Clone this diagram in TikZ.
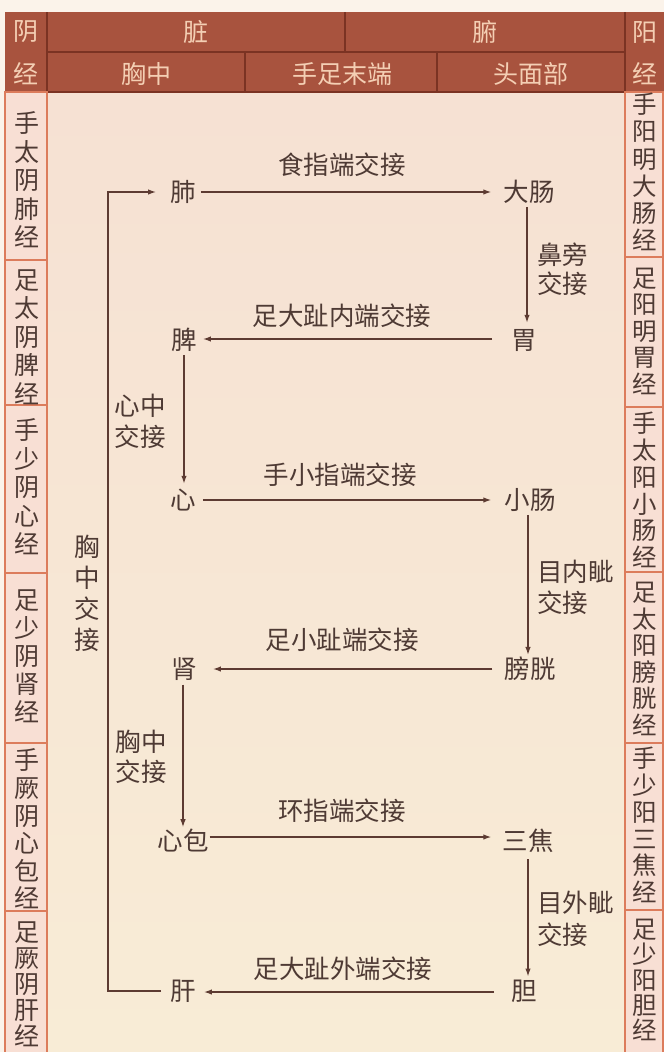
\documentclass[tikz,border=0pt]{standalone}
\usepackage{fontspec}
\setmainfont{Noto Sans CJK SC}
\usetikzlibrary{arrows.meta}
\definecolor{hdr}{HTML}{A8533E}
\definecolor{hdrtxt}{HTML}{F4CFB4}
\definecolor{hdrline}{HTML}{7B3323}
\definecolor{cellfill}{HTML}{F8DFD4}
\definecolor{cellline}{HTML}{DC7C5C}
\definecolor{bgtop}{HTML}{F6E1D3}
\definecolor{bgbot}{HTML}{F8ECD6}
\definecolor{ink}{HTML}{4E3A34}
\definecolor{wire}{HTML}{5D3B32}
\definecolor{paper}{HTML}{FBF3EA}
\begin{document}
\begin{tikzpicture}[x=1pt,y=-1pt,
  lbl/.style={font=\fontsize{25.5}{30}\selectfont, text=ink, inner sep=0pt, align=center},
  organ/.style={lbl},
  vlbl/.style={lbl, align=left, anchor=west},
  hdrtext/.style={font=\fontsize{25}{30}\selectfont, text=hdrtxt, inner sep=0pt},
  side/.style={text=ink, inner sep=0pt, align=center},
  cell/.style={fill=cellfill, draw=cellline, line width=1.5pt},
  hline/.style={draw=hdrline, line width=1.6pt},
  arr/.style={draw=wire, line width=1.3pt, -{Latex[length=8pt,width=5.5pt]}}]
\useasboundingbox (0,0) rectangle (664,1052);
\fill[paper] (0,0) rectangle (664,1052);
% main background
\shade[top color=bgtop, bottom color=bgbot] (47,92) rectangle (625,1052);
% header
\fill[hdr] (5,12) rectangle (664,92);
\draw[hline] (47,12) -- (47,92);
\draw[hline] (625,12) -- (625,92);
\draw[hline] (47,52) -- (625,52);
\draw[hline] (345,12) -- (345,52);
\draw[hline] (245,52) -- (245,92);
\draw[hline] (437,52) -- (437,92);
\draw[hline] (5,92) -- (664,92);
\node[hdrtext] (hyin1) at (26,32) {阴};
\node[hdrtext] (hyin2) at (26,74) {经};
\node[hdrtext] (hyang1) at (645,32) {阳};
\node[hdrtext] (hyang2) at (645,74) {经};
\node[hdrtext] (hzang) at (196,32) {脏};
\node[hdrtext] (hfu) at (485,32) {腑};
\node[hdrtext] (hxiong) at (146,74) {胸中};
\node[hdrtext] (hshouzu) at (342,74) {手足末端};
\node[hdrtext] (htou) at (531,74) {头面部};
% left column cells
\draw[cell] (5,92) rectangle (47,260);
\draw[cell] (5,260) rectangle (47,405);
\draw[cell] (5,405) rectangle (47,573);
\draw[cell] (5,573) rectangle (47,743);
\draw[cell] (5,743) rectangle (47,911);
\draw[cell] (5,911) rectangle (47,1056);
% right column cells
\draw[cell] (625,92) rectangle (663,257);
\draw[cell] (625,257) rectangle (663,407);
\draw[cell] (625,407) rectangle (663,572);
\draw[cell] (625,572) rectangle (663,743);
\draw[cell] (625,743) rectangle (663,910);
\draw[cell] (625,910) rectangle (663,1056);
% left texts
\node[side, font=\fontsize{25}{28.5}\selectfont] (l1) at (27,180) {手\\太\\阴\\肺\\经};
\node[side, font=\fontsize{25}{28.5}\selectfont] (l2) at (27,337) {足\\太\\阴\\脾\\经};
\node[side, font=\fontsize{25}{28.5}\selectfont] (l3) at (27,487) {手\\少\\阴\\心\\经};
\node[side, font=\fontsize{25}{28}\selectfont] (l4) at (27,656) {足\\少\\阴\\肾\\经};
\node[side, font=\fontsize{25}{27.6}\selectfont] (l5) at (27,829) {手\\厥\\阴\\心\\包\\经};
\node[side, font=\fontsize{25}{26}\selectfont] (l6) at (27,984) {足\\厥\\阴\\肝\\经};
% right texts
\node[side, font=\fontsize{24.5}{27.2}\selectfont] (r1) at (645,172) {手\\阳\\明\\大\\肠\\经};
\node[side, font=\fontsize{24.5}{26.5}\selectfont] (r2) at (645,331) {足\\阳\\明\\胃\\经};
\node[side, font=\fontsize{24.5}{26.8}\selectfont] (r3) at (645,490) {手\\太\\阳\\小\\肠\\经};
\node[side, font=\fontsize{24.5}{26.5}\selectfont] (r4) at (645,659) {足\\太\\阳\\膀\\胱\\经};
\node[side, font=\fontsize{24.5}{26.8}\selectfont] (r5) at (645,825) {手\\少\\阳\\三\\焦\\经};
\node[side, font=\fontsize{24.5}{25.3}\selectfont] (r6) at (645,980) {足\\少\\阳\\胆\\经};
% organs
\node[organ] (fei) at (183,192) {肺};
\node[organ] (dachang) at (529,192) {大肠};
\node[organ] (wei) at (524,340) {胃};
\node[organ] (pi) at (184,340) {脾};
\node[organ] (xin) at (183,500) {心};
\node[organ] (xiaochang) at (530,500) {小肠};
\node[organ] (pangguang) at (530,669) {膀胱};
\node[organ] (shen) at (184,669) {肾};
\node[organ] (xinbao) at (183,841) {心包};
\node[organ] (sanjiao) at (528,841) {三焦};
\node[organ] (dan) at (524,991) {胆};
\node[organ] (gan) at (183,991) {肝};
% labels
\node[lbl] (t1) at (342,165) {食指端交接};
\node[vlbl, font=\fontsize{25.5}{29}\selectfont] (t2) at (537,269) {鼻旁\\交接};
\node[lbl] (t3) at (342,316) {足大趾内端交接};
\node[lbl, font=\fontsize{25.5}{31}\selectfont] (t4) at (140,421) {心中\\交接};
\node[lbl] (t5) at (340,475) {手小指端交接};
\node[vlbl, font=\fontsize{25.5}{31}\selectfont] (t6) at (537,587) {目内眦\\交接};
\node[lbl, font=\fontsize{25.5}{31}\selectfont] (t7) at (87,593) {胸\\中\\交\\接};
\node[lbl] (t8) at (342,640) {足小趾端交接};
\node[lbl, font=\fontsize{25.5}{30}\selectfont] (t9) at (141,757) {胸中\\交接};
\node[lbl] (t10) at (342,811) {环指端交接};
\node[vlbl, font=\fontsize{25.5}{32}\selectfont] (t11) at (537,919) {目外眦\\交接};
\node[lbl] (t12) at (343,969) {足大趾外端交接};
% connectors
\coordinate (loopx) at (108,0);
\draw[arr] ([xshift=5pt]fei.east) -- ([xshift=-12pt]dachang.west);
\draw[arr] ([xshift=-2pt,yshift=-3pt]dachang.south) -- ([xshift=-2pt,yshift=6pt]dachang.south |- wei.north);
\draw[arr] ([xshift=-19pt,yshift=1pt]wei.west) -- ([xshift=6pt,yshift=1pt]pi.east);
\draw[arr] ([yshift=-3pt]pi.south) -- ([yshift=5pt]pi.south |- xin.north);
\draw[arr] ([xshift=7pt]xin.east) -- ([xshift=-13pt]xiaochang.west);
\draw[arr] ([xshift=-2pt,yshift=-3pt]xiaochang.south) -- ([xshift=-2pt,yshift=2pt]xiaochang.south |- pangguang.north);
\draw[arr] ([xshift=-12pt]pangguang.west) -- ([xshift=16pt]shen.east);
\draw[arr] ([xshift=-1pt,yshift=-4pt]shen.south) -- ([xshift=-1pt,yshift=2pt]shen.south |- xinbao.north);
\draw[arr] ([xshift=1pt,yshift=4pt]xinbao.east) -- ([xshift=-11pt,yshift=4pt]sanjiao.west);
\draw[arr] ([yshift=-6pt]sanjiao.south) -- ([yshift=3pt]sanjiao.south |- dan.north);
\draw[arr] ([xshift=-17pt,yshift=-1pt]dan.west) -- ([xshift=8pt,yshift=-1pt]gan.east);
\draw[arr] ([xshift=-9pt]gan.west) -- (gan.west -| loopx) -- (fei.west -| loopx) -- ([xshift=-14pt]fei.west);
\end{tikzpicture}
\end{document}
